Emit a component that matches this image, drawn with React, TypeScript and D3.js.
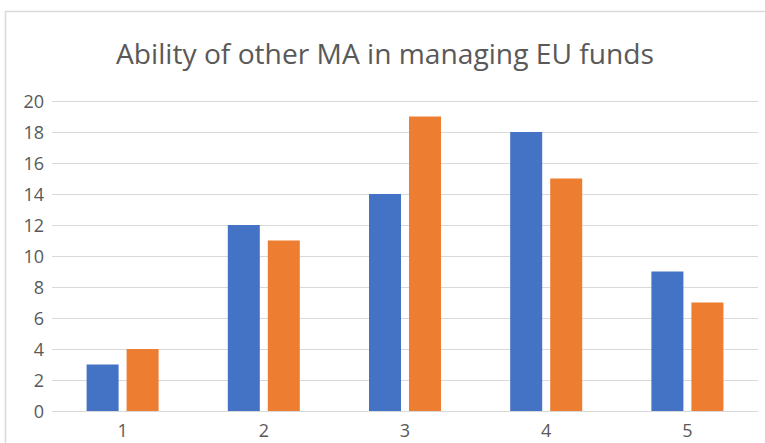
import { useEffect, useRef } from "react";
import * as d3 from "d3";

const categories = ["1", "2", "3", "4", "5"];
const seriesNames = ["Series1", "Series2"];
const series1 = [3, 12, 14, 18, 9];
const series2 = [4, 11, 19, 15, 7];
const yTicks = [0, 2, 4, 6, 8, 10, 12, 14, 16, 18, 20];
const colors = ["#4472C4", "#ED7D31"];
const title = "Ability of other MA in managing EU funds";

const App = () => {
  const ref = useRef<SVGSVGElement>(null);

  useEffect(() => {
    const svg = d3.select(ref.current);
    svg.selectAll("*").remove();

    const font = "'Open Sans', 'Noto Sans', sans-serif";
    const textColor = "#595959";

    // chart frame
    svg
      .append("rect")
      .attr("x", 5.5)
      .attr("y", 11.5)
      .attr("width", 780)
      .attr("height", 460)
      .attr("fill", "#fff")
      .attr("stroke", "#D9D9D9")
      .attr("stroke-width", 1.5);

    svg
      .append("text")
      .attr("x", 385)
      .attr("y", 64)
      .attr("text-anchor", "middle")
      .attr("textLength", 538)
      .attr("lengthAdjust", "spacingAndGlyphs")
      .style("font-family", font)
      .style("font-size", "27px")
      .style("fill", textColor)
      .text(title);

    const x = d3.scaleBand().domain(categories).range([52, 758]);
    const inner = (x.bandwidth() - 72) / 2;
    const x1 = d3
      .scaleBand()
      .domain(seriesNames)
      .range([inner, inner + 72])
      .paddingInner(0.2);
    const y = d3.scaleLinear().domain([0, 20]).range([411, 101]);

    // grid
    svg
      .append("g")
      .selectAll("line")
      .data(yTicks)
      .enter()
      .append("line")
      .attr("x1", 52)
      .attr("x2", 758)
      .attr("y1", (d) => Math.round(y(d)) + 0.5)
      .attr("y2", (d) => Math.round(y(d)) + 0.5)
      .attr("stroke", "#D9D9D9")
      .attr("stroke-width", 1.2);

    svg
      .append("g")
      .selectAll("text")
      .data(yTicks)
      .enter()
      .append("text")
      .attr("x", 44)
      .attr("y", (d) => y(d) + 6.5)
      .attr("text-anchor", "end")
      .style("font-family", font)
      .style("font-size", "18px")
      .style("fill", textColor)
      .text((d) => d);

    const data = categories.map((c, i) => ({
      cat: c,
      values: [series1[i], series2[i]],
    }));

    const groups = svg
      .append("g")
      .selectAll("g")
      .data(data)
      .enter()
      .append("g")
      .attr("transform", (d) => `translate(${x(d.cat)},0)`);

    groups
      .selectAll("rect")
      .data((d) => d.values.map((v, j) => ({ name: seriesNames[j], v, j })))
      .enter()
      .append("rect")
      .attr("x", (d) => x1(d.name)!)
      .attr("width", x1.bandwidth())
      .attr("y", (d) => y(d.v))
      .attr("height", (d) => y(0) - y(d.v))
      .attr("fill", (d) => colors[d.j]);

    svg
      .append("g")
      .selectAll("text")
      .data(categories)
      .enter()
      .append("text")
      .attr("x", (d) => x(d)! + x.bandwidth() / 2)
      .attr("y", 437)
      .attr("text-anchor", "middle")
      .style("font-family", font)
      .style("font-size", "18px")
      .style("fill", textColor)
      .text((d) => d);
  }, []);

  return (
    <svg
      ref={ref}
      width={765}
      height={443}
      style={{ position: "absolute", left: 0, top: 0, background: "#fff" }}
    />
  );
};

export default App;
